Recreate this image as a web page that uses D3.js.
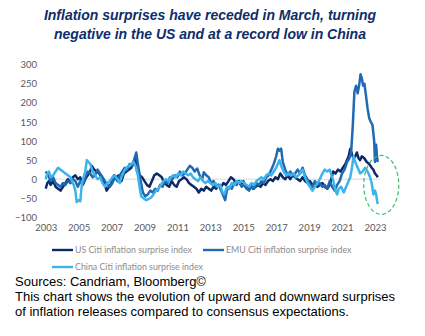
<!DOCTYPE html>
<html>
<head>
<meta charset="utf-8">
<script src="https://cdn.jsdelivr.net/npm/d3@7"></script>
<style>
  body { margin: 0; background: #fff; }
  svg { display: block; }
</style>
</head>
<body>
<div id="chart"></div>
<script>
// 1. Data (decimal year, surprise index)
const yearTicks = [2003, 2005, 2007, 2009, 2011, 2013, 2015, 2017, 2019, 2021, 2023];
const valueTicks = [-100, -50, 0, 50, 100, 150, 200, 250, 300];
const seriesNames = ["US Citi inflation surprise index", "EMU Citi inflation surprise index", "China Citi inflation surprise index"];

const usData = [
  [2003.0,-25],[2003.1,-10],[2003.2,-5],[2003.3,-15],[2003.45,-5],[2003.6,-20],[2003.75,-25],[2003.9,-30],
  [2004.05,-20],[2004.2,-10],[2004.35,0],[2004.5,-10],[2004.65,5],[2004.8,10],[2004.95,0],[2005.1,5],
  [2005.25,-15],[2005.4,0],[2005.55,10],[2005.7,20],[2005.8,35],[2005.95,25],[2006.1,20],[2006.25,15],
  [2006.4,5],[2006.55,-10],[2006.7,-30],[2006.85,-20],[2007.0,-10],[2007.15,10],[2007.3,5],[2007.45,10],
  [2007.6,-5],[2007.75,15],[2007.9,20],[2008.05,25],[2008.2,30],[2008.35,45],[2008.45,60],[2008.55,20],
  [2008.7,10],[2008.85,5],[2009.0,-5],[2009.15,-15],[2009.3,-20],[2009.45,-5],[2009.6,10],[2009.75,15],
  [2009.9,10],[2010.05,5],[2010.2,-10],[2010.35,-15],[2010.5,-20],[2010.65,-5],[2010.8,-15],[2010.95,-20],
  [2011.1,-5],[2011.25,0],[2011.4,5],[2011.55,0],[2011.7,-10],[2011.85,-15],[2012.0,-20],[2012.15,-25],
  [2012.3,-35],[2012.45,-25],[2012.6,-30],[2012.75,-20],[2012.9,-25],[2013.05,-30],[2013.2,-20],[2013.35,-25],
  [2013.5,-15],[2013.65,-20],[2013.8,-10],[2013.95,-15],[2014.1,-5],[2014.25,5],[2014.4,0],[2014.55,-10],
  [2014.7,-5],[2014.85,-15],[2015.0,-5],[2015.15,-20],[2015.3,-25],[2015.45,-15],[2015.6,-25],[2015.75,-20],
  [2015.9,-15],[2016.05,-20],[2016.2,-10],[2016.35,-15],[2016.5,-5],[2016.65,0],[2016.8,-5],[2016.95,5],
  [2017.1,0],[2017.25,15],[2017.4,5],[2017.55,0],[2017.7,10],[2017.85,0],[2018.0,10],[2018.15,5],
  [2018.3,0],[2018.45,-5],[2018.6,5],[2018.75,-5],[2018.9,-10],[2019.05,-5],[2019.2,-15],[2019.35,-10],
  [2019.5,-20],[2019.65,-15],[2019.8,-10],[2019.95,-20],[2020.1,-25],[2020.25,-15],[2020.35,0],[2020.45,20],
  [2020.6,15],[2020.75,25],[2020.9,20],[2021.05,30],[2021.2,40],[2021.3,50],[2021.4,60],[2021.5,80],
  [2021.6,65],[2021.7,55],[2021.8,60],[2021.9,70],[2022.0,55],[2022.1,50],[2022.2,60],[2022.35,55],
  [2022.5,45],[2022.65,40],[2022.8,30],[2022.9,25],[2023.0,15],[2023.1,10],[2023.17,5]
];

const emuData = [
  [2003.0,20],[2003.15,10],[2003.3,-5],[2003.45,5],[2003.6,-10],[2003.75,-15],[2003.9,-20],[2004.05,-10],
  [2004.2,-15],[2004.35,-5],[2004.5,-10],[2004.65,0],[2004.8,-5],[2004.95,-20],[2005.1,-5],[2005.25,-15],
  [2005.4,5],[2005.55,20],[2005.7,15],[2005.85,5],[2006.0,10],[2006.15,25],[2006.3,15],[2006.45,5],
  [2006.6,-5],[2006.75,-15],[2006.9,-20],[2007.05,-10],[2007.2,5],[2007.35,-5],[2007.5,10],[2007.65,20],
  [2007.8,30],[2007.95,25],[2008.1,40],[2008.25,35],[2008.4,55],[2008.5,70],[2008.6,40],[2008.75,0],
  [2008.9,-35],[2009.05,-45],[2009.2,-40],[2009.35,-30],[2009.5,-35],[2009.65,-25],[2009.8,-30],[2009.95,-15],
  [2010.1,-20],[2010.25,-5],[2010.4,-10],[2010.55,5],[2010.7,0],[2010.85,10],[2011.0,5],[2011.15,20],
  [2011.3,10],[2011.45,15],[2011.6,25],[2011.75,35],[2011.9,30],[2012.05,20],[2012.2,28],[2012.35,10],
  [2012.5,0],[2012.6,18],[2012.75,10],[2012.9,5],[2013.05,-10],[2013.2,-5],[2013.35,-20],[2013.5,-15],
  [2013.65,-30],[2013.8,-45],[2013.9,-55],[2014.0,-30],[2014.15,-20],[2014.3,-25],[2014.45,-10],[2014.6,-15],
  [2014.75,-5],[2014.9,-20],[2015.05,-15],[2015.2,-25],[2015.35,-30],[2015.5,-20],[2015.65,-25],[2015.8,-10],
  [2015.95,-15],[2016.1,-5],[2016.25,-10],[2016.4,5],[2016.55,10],[2016.7,25],[2016.85,40],[2017.0,60],
  [2017.1,80],[2017.2,75],[2017.3,80],[2017.4,45],[2017.55,25],[2017.7,10],[2017.85,20],[2018.0,10],
  [2018.15,15],[2018.3,25],[2018.45,15],[2018.6,30],[2018.75,10],[2018.9,0],[2019.05,-15],[2019.2,-20],
  [2019.35,-5],[2019.5,-15],[2019.65,-10],[2019.8,-20],[2019.95,-15],[2020.1,-25],[2020.25,-5],[2020.4,-20],
  [2020.55,-30],[2020.7,-15],[2020.85,-5],[2021.0,15],[2021.15,25],[2021.3,45],[2021.45,55],[2021.55,70],
  [2021.65,140],[2021.75,230],[2021.85,245],[2021.95,225],[2022.05,250],[2022.12,275],[2022.2,265],[2022.28,245],
  [2022.36,250],[2022.45,220],[2022.55,185],[2022.65,160],[2022.75,150],[2022.85,142],[2022.95,100],[2023.0,45],
  [2023.07,90],[2023.12,60],[2023.17,45]
];

const chinaData = [
  [2003.0,0],[2003.1,15],[2003.2,20],[2003.3,5],[2003.45,10],[2003.6,20],[2003.75,30],[2003.9,25],
  [2004.05,20],[2004.2,15],[2004.35,10],[2004.5,5],[2004.6,-5],[2004.7,-15],[2004.8,-30],[2004.88,-60],
  [2005.0,-55],[2005.1,-58],[2005.2,-10],[2005.3,5],[2005.4,20],[2005.5,50],[2005.6,45],[2005.7,40],
  [2005.85,20],[2006.0,10],[2006.15,0],[2006.3,5],[2006.45,-10],[2006.6,-20],[2006.75,-10],[2006.9,-5],
  [2007.05,5],[2007.2,10],[2007.35,0],[2007.5,-10],[2007.6,5],[2007.75,20],[2007.9,30],[2008.05,35],
  [2008.2,40],[2008.35,45],[2008.5,30],[2008.6,10],[2008.7,-20],[2008.8,-45],[2008.95,-50],[2009.1,-55],
  [2009.25,-52],[2009.4,-48],[2009.55,-40],[2009.7,-30],[2009.85,-25],[2010.0,-15],[2010.15,-5],[2010.3,0],
  [2010.45,-5],[2010.6,5],[2010.75,10],[2010.9,5],[2011.05,15],[2011.2,10],[2011.35,20],[2011.5,15],
  [2011.65,10],[2011.8,15],[2011.95,5],[2012.1,0],[2012.25,-5],[2012.4,5],[2012.55,-5],[2012.7,-10],
  [2012.85,-5],[2013.0,-10],[2013.15,-15],[2013.3,-10],[2013.45,-20],[2013.6,-15],[2013.75,-35],[2013.85,-40],
  [2014.0,-20],[2014.15,-25],[2014.3,-10],[2014.45,-15],[2014.6,-5],[2014.75,-10],[2014.9,-5],[2015.05,-10],
  [2015.2,-15],[2015.35,-20],[2015.5,-10],[2015.65,-15],[2015.8,-5],[2015.95,0],[2016.1,5],[2016.25,0],
  [2016.4,10],[2016.55,15],[2016.7,10],[2016.85,20],[2017.0,30],[2017.1,40],[2017.2,50],[2017.3,35],
  [2017.45,20],[2017.6,10],[2017.75,15],[2017.9,10],[2018.05,15],[2018.2,5],[2018.35,10],[2018.5,20],
  [2018.6,25],[2018.75,5],[2018.9,-10],[2019.05,-20],[2019.2,-30],[2019.35,-20],[2019.5,-10],[2019.65,0],
  [2019.8,15],[2019.95,25],[2020.1,20],[2020.25,25],[2020.4,5],[2020.5,-10],[2020.6,-30],[2020.7,-40],
  [2020.8,-25],[2020.95,-20],[2021.1,-35],[2021.25,-20],[2021.4,-5],[2021.5,5],[2021.6,30],[2021.7,60],
  [2021.8,45],[2021.95,30],[2022.1,15],[2022.25,20],[2022.4,30],[2022.55,20],[2022.7,5],[2022.8,-10],
  [2022.9,-40],[2023.0,-30],[2023.07,-40],[2023.12,-55],[2023.17,-65]
];

const colors = ["#0d2a66", "#1f6ab3", "#3db3ea"];

// 2. Dimensions
const width = 425;
const height = 336;

const svg = d3.select("#chart")
  .append("svg")
    .attr("width", width)
    .attr("height", height);

// 3. Title
svg.append("text")
  .attr("x", 210).attr("y", 20)
  .attr("text-anchor", "middle")
  .style("font", "italic bold 14px 'Liberation Sans', Arial, sans-serif")
  .style("fill", "#0e2d69")
  .text("Inflation surprises have receded in March, turning");
svg.append("text")
  .attr("x", 210).attr("y", 39)
  .attr("text-anchor", "middle")
  .style("font", "italic bold 14px 'Liberation Sans', Arial, sans-serif")
  .style("fill", "#0e2d69")
  .text("negative in the US and at a record low in China");

// 4. Scales
const xScale = d3.scaleLinear()
  .domain([2003, 2023])
  .range([45.7, 375]);

const yScale = d3.scaleLinear()
  .domain([-100, 300])
  .range([217.3, 64.8]);

// 5. Axes (labels only)
const yAxis = svg.append("g")
  .attr("transform", "translate(37,0)")
  .call(d3.axisLeft(yScale).tickValues(valueTicks).tickSize(0).tickPadding(0));
yAxis.select(".domain").remove();
yAxis.selectAll("text")
  .style("font", "9.5px Lato, sans-serif")
  .style("fill", "#595959");

const xAxis = svg.append("g")
  .attr("transform", "translate(0,224)")
  .call(d3.axisBottom(xScale).tickValues(yearTicks).tickFormat(d3.format("d")).tickSize(0).tickPadding(0));
xAxis.select(".domain").remove();
xAxis.selectAll("text")
  .style("font", "9.5px Lato, sans-serif")
  .style("fill", "#595959");

// zero line
svg.append("line")
  .attr("x1", xScale(2003)).attr("x2", xScale(2023.3))
  .attr("y1", yScale(0)).attr("y2", yScale(0))
  .attr("stroke", "#d9d9d9")
  .attr("stroke-width", 1);

// 6. Lines
const lineGen = d3.line()
  .x(d => xScale(d[0]))
  .y(d => yScale(d[1]));

[usData, emuData, chinaData].forEach((data, i) => {
  svg.append("path")
    .datum(data)
    .attr("d", lineGen)
    .attr("fill", "none")
    .attr("stroke", colors[i])
    .attr("stroke-width", 2.5)
    .attr("stroke-linejoin", "round");
});

// highlight ellipse
svg.append("ellipse")
  .attr("cx", xScale(2023.38)).attr("cy", yScale(-15))
  .attr("rx", 17.5).attr("ry", 29.5)
  .attr("fill", "none")
  .attr("stroke", "#3dbb6c")
  .attr("stroke-width", 1.2)
  .attr("stroke-dasharray", "4,2.5");

// 7. Legend
const legendPos = [[52, 250], [203, 250], [52, 267]];
seriesNames.forEach((name, i) => {
  const [lx, ly] = legendPos[i];
  svg.append("line")
    .attr("x1", lx).attr("x2", lx + 21)
    .attr("y1", ly).attr("y2", ly)
    .attr("stroke", colors[i])
    .attr("stroke-width", 2.4);
  svg.append("text")
    .attr("x", lx + 23).attr("y", ly + 3.2)
    .style("font", "8.8px Lato, sans-serif")
    .style("fill", "#8c8c8c")
    .text(name);
});

// 8. Footer
const footer = [
  "Sources: Candriam, Bloomberg\u00a9",
  "This chart shows the evolution of upward and downward surprises",
  "of inflation releases compared to consensus expectations."
];
footer.forEach((t, i) => {
  svg.append("text")
    .attr("x", 15).attr("y", 286 + i * 15)
    .style("font", "13px 'Liberation Sans', Arial, sans-serif")
    .style("fill", "#000")
    .text(t);
});
</script>
</body>
</html>
